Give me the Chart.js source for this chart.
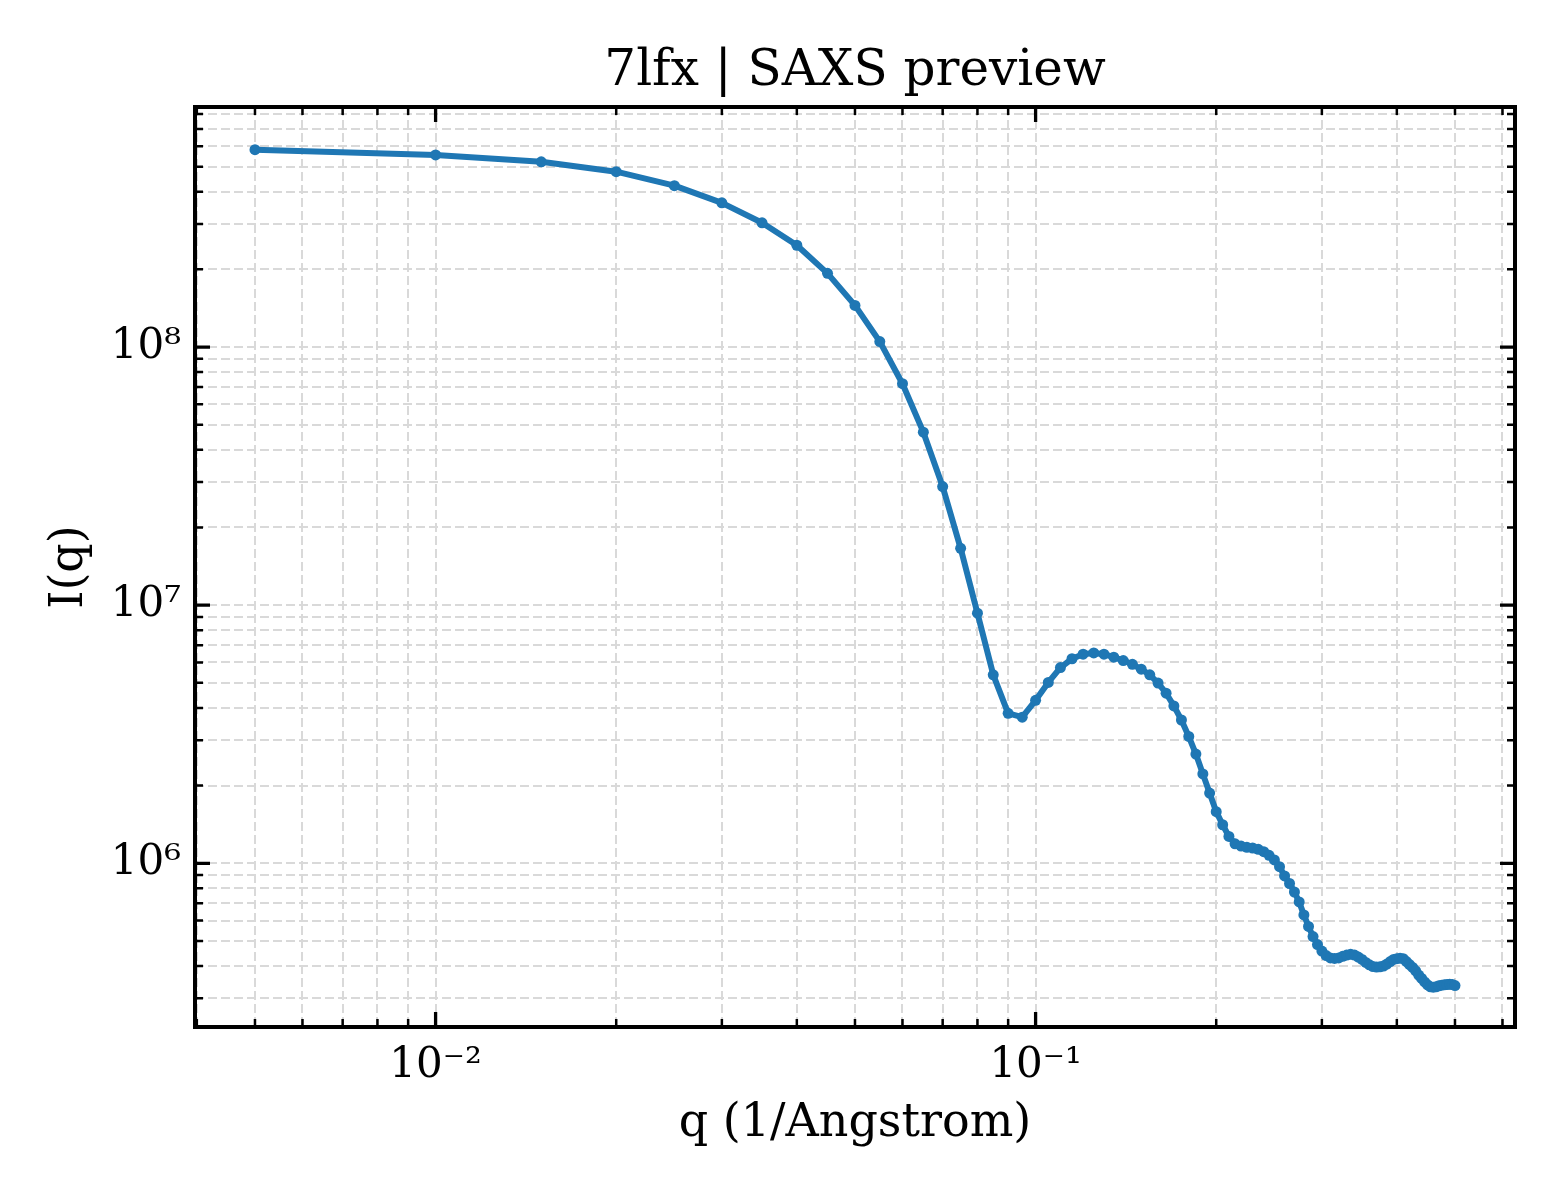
<!DOCTYPE html>
<html>
<head>
<meta charset="utf-8">
<script src="https://cdn.jsdelivr.net/npm/chart.js@4.4.1/dist/chart.umd.min.js"></script>
<style>
html,body{margin:0;padding:0;background:#ffffff;}
#wrap{width:1560px;height:1200px;}
canvas{display:block;}
</style>
</head>
<body>
<div id="wrap"><canvas id="chart" width="1560" height="1200"></canvas></div>
<script>
// ---- data ----
const qValues = [
  0.005, 0.010, 0.015, 0.020, 0.025, 0.030, 0.035, 0.040, 0.045, 0.050,
  0.055, 0.060, 0.065, 0.070, 0.075, 0.080, 0.085, 0.090, 0.095, 0.100,
  0.105, 0.110, 0.115, 0.120, 0.125, 0.130, 0.135, 0.140, 0.145, 0.150,
  0.155, 0.160, 0.165, 0.170, 0.175, 0.180, 0.185, 0.190, 0.195, 0.200,
  0.205, 0.210, 0.215, 0.220, 0.225, 0.230, 0.235, 0.240, 0.245, 0.250,
  0.255, 0.260, 0.265, 0.270, 0.275, 0.280, 0.285, 0.290, 0.295, 0.300,
  0.305, 0.310, 0.315, 0.320, 0.325, 0.330, 0.335, 0.340, 0.345, 0.350,
  0.355, 0.360, 0.365, 0.370, 0.375, 0.380, 0.385, 0.390, 0.395, 0.400,
  0.405, 0.410, 0.415, 0.420, 0.425, 0.430, 0.435, 0.440, 0.445, 0.450,
  0.455, 0.460, 0.465, 0.470, 0.475, 0.480, 0.485, 0.490, 0.495, 0.500
];
const intensity = [
  5.82e8, 5.55e8, 5.22e8, 4.78e8, 4.22e8, 3.62e8, 3.03e8, 2.48e8, 1.93e8, 1.45e8,
  1.05e8, 7.21e7, 4.68e7, 2.88e7, 1.66e7, 9.31e6, 5.37e6, 3.81e6, 3.68e6, 4.28e6,
  5.02e6, 5.73e6, 6.20e6, 6.46e6, 6.53e6, 6.46e6, 6.29e6, 6.10e6, 5.90e6, 5.65e6,
  5.37e6, 4.99e6, 4.56e6, 4.07e6, 3.59e6, 3.10e6, 2.65e6, 2.22e6, 1.87e6, 1.585e6,
  1.41e6, 1.27e6, 1.19e6, 1.166e6, 1.153e6, 1.146e6, 1.133e6, 1.109e6, 1.074e6, 1.03e6,
  9.70e5, 8.93e5, 8.35e5, 7.74e5, 7.08e5, 6.31e5, 5.69e5, 5.20e5, 4.84e5, 4.57e5,
  4.39e5, 4.30e5, 4.28e5, 4.30e5, 4.36e5, 4.41e5, 4.44e5, 4.41e5, 4.33e5, 4.24e5,
  4.13e5, 4.04e5, 3.98e5, 3.96e5, 3.97e5, 4.00e5, 4.07e5, 4.16e5, 4.24e5, 4.27e5,
  4.29e5, 4.27e5, 4.16e5, 4.05e5, 3.95e5, 3.83e5, 3.69e5, 3.58e5, 3.47e5, 3.38e5,
  3.32e5, 3.31e5, 3.32e5, 3.35e5, 3.37e5, 3.38e5, 3.39e5, 3.40e5, 3.39e5, 3.36e5
];
const xTickValues = [
  0.004, 0.005, 0.006, 0.007, 0.008, 0.009,
  0.01, 0.02, 0.03, 0.04, 0.05, 0.06, 0.07, 0.08, 0.09,
  0.1, 0.2, 0.3, 0.4, 0.5, 0.6
];
const yTickValues = [
  3e5, 4e5, 5e5, 6e5, 7e5, 8e5, 9e5,
  1e6, 2e6, 3e6, 4e6, 5e6, 6e6, 7e6, 8e6, 9e6,
  1e7, 2e7, 3e7, 4e7, 5e7, 6e7, 7e7, 8e7, 9e7,
  1e8, 2e8, 3e8, 4e8, 5e8, 6e8, 7e8, 8e8
];
const xLabelValues = [0.01, 0.1];
const xLabelTexts = ['10\u207B\u00B2', '10\u207B\u00B9'];
const yLabelValues = [1e6, 1e7, 1e8];
const yLabelTexts = ['10\u2076', '10\u2077', '10\u2078'];
const xRange = [0.003972, 0.6295];
const yRange = [2.321e5, 8.513e8];
const chartTitle = '7lfx | SAXS preview';
const xAxisTitle = 'q (1/Angstrom)';
const yAxisTitle = 'I(q)';

// ---- helpers ----
const FONT = "'DejaVu Serif', 'Liberation Serif', serif";
const LINE_COLOR = '#1f77b4';
function labelFor(value, vals, texts) {
  for (let i = 0; i < vals.length; i++) {
    if (Math.abs(value - vals[i]) / vals[i] < 1e-6) return texts[i];
  }
  return '';
}
function isMajor(value, vals) {
  return labelFor(value, vals, vals.map(() => 'm')) !== '';
}

const frameTicks = {
  id: 'frameTicks',
  afterDraw(chart) {
    const ctx = chart.ctx;
    const a = chart.chartArea;
    const xs = chart.scales.x, ys = chart.scales.y;
    ctx.save();
    ctx.strokeStyle = '#000000';
    ctx.lineCap = 'butt';
    xs.ticks.forEach(t => {
      const major = isMajor(t.value, xLabelValues);
      const len = major ? 15 : 8;
      ctx.lineWidth = major ? 3.3 : 2.5;
      const px = xs.getPixelForValue(t.value);
      ctx.beginPath();
      ctx.moveTo(px, a.bottom); ctx.lineTo(px, a.bottom - len);
      ctx.moveTo(px, a.top); ctx.lineTo(px, a.top + len);
      ctx.stroke();
    });
    ys.ticks.forEach(t => {
      const major = isMajor(t.value, yLabelValues);
      const len = major ? 15 : 8;
      ctx.lineWidth = major ? 3.3 : 2.5;
      const py = ys.getPixelForValue(t.value);
      ctx.beginPath();
      ctx.moveTo(a.left, py); ctx.lineTo(a.left + len, py);
      ctx.moveTo(a.right, py); ctx.lineTo(a.right - len, py);
      ctx.stroke();
    });
    ctx.lineWidth = 4;
    ctx.strokeRect(a.left, a.top, a.right - a.left, a.bottom - a.top);
    ctx.restore();
  }
};

new Chart(document.getElementById('chart'), {
  type: 'line',
  data: {
    datasets: [{
      data: qValues.map((q, i) => ({x: q, y: intensity[i]})),
      borderColor: LINE_COLOR,
      backgroundColor: LINE_COLOR,
      borderWidth: 6,
      borderJoinStyle: 'round',
      borderCapStyle: 'round',
      pointRadius: 5.5,
      pointBorderWidth: 0,
      pointBackgroundColor: LINE_COLOR,
      tension: 0,
      fill: false
    }]
  },
  options: {
    responsive: false,
    devicePixelRatio: 1,
    animation: false,
    layout: {padding: {left: 20, right: 45, top: 20, bottom: 20}},
    plugins: {
      legend: {display: false},
      tooltip: {enabled: false},
      title: {
        display: true,
        fullSize: false,
        text: chartTitle,
        color: '#000000',
        font: {family: FONT, size: 50, weight: 'normal'},
        padding: {top: 22, bottom: 5}
      }
    },
    scales: {
      x: {
        type: 'logarithmic',
        min: xRange[0],
        max: xRange[1],
        bounds: 'data',
        afterBuildTicks: s => { s.ticks = xTickValues.map(v => ({value: v})); },
        afterFit: s => { s.height = 153; },
        grid: {color: '#d9d9d9', lineWidth: 2, drawTicks: false},
        border: {display: false, dash: [9, 4]},
        ticks: {
          autoSkip: false, maxRotation: 0, minRotation: 0, padding: 14,
          color: '#000000',
          font: {family: FONT, size: 42},
          callback: v => labelFor(v, xLabelValues, xLabelTexts)
        },
        title: {
          display: true, text: xAxisTitle, color: '#000000',
          font: {family: FONT, size: 46},
          padding: {top: 0, bottom: 28}
        }
      },
      y: {
        type: 'logarithmic',
        min: yRange[0],
        max: yRange[1],
        bounds: 'data',
        afterBuildTicks: s => { s.ticks = yTickValues.map(v => ({value: v})); },
        afterFit: s => { s.width = 175; },
        grid: {color: '#d9d9d9', lineWidth: 2, drawTicks: false},
        border: {display: false, dash: [9, 4]},
        ticks: {
          autoSkip: false, padding: 14,
          color: '#000000',
          font: {family: FONT, size: 42},
          callback: v => labelFor(v, yLabelValues, yLabelTexts)
        },
        title: {
          display: true, text: yAxisTitle, color: '#000000',
          font: {family: FONT, size: 46},
          padding: {top: 22, bottom: 0}
        }
      }
    }
  },
  plugins: [frameTicks]
});
</script>
</body>
</html>
